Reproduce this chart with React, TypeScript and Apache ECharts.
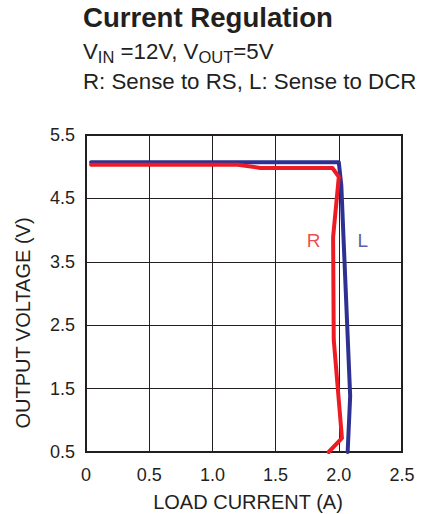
import React, { useEffect, useRef } from "react";
import * as echarts from "echarts";

const xTicks = [0, 0.5, 1.0, 1.5, 2.0, 2.5];
const yTicks = [0.5, 1.5, 2.5, 3.5, 4.5, 5.5];

// L: Sense to DCR (blue)
const seriesL: [number, number][] = [
  [0.04, 5.07],
  [2.0, 5.07],
  [2.02, 4.7],
  [2.09, 1.38],
  [2.07, 0.5],
];

// R: Sense to RS (red)
const seriesR: [number, number][] = [
  [0.04, 5.03],
  [1.2, 5.03],
  [1.38, 4.98],
  [1.95, 4.98],
  [2.0, 4.84],
  [1.955, 3.89],
  [1.96, 2.27],
  [2.025, 0.72],
  [1.92, 0.5],
];

const curveLabels = [
  { name: "R", value: [1.8, 3.83], color: "#ed1c24" },
  { name: "L", value: [2.19, 3.83], color: "#2e3192" },
];

const FONT = "'Liberation Sans', Arial, Helvetica, sans-serif";

export default function App() {
  const ref = useRef<HTMLDivElement>(null);
  useEffect(() => {
    document.body.style.margin = "0";
    const chart = echarts.init(ref.current!, undefined, { renderer: "svg" });
    chart.setOption({
      animation: false,
      backgroundColor: "#ffffff",
      textStyle: { fontFamily: FONT },
      grid: {
        left: 86,
        top: 135,
        width: 316,
        height: 317,
        show: true,
        borderColor: "#231f20",
        borderWidth: 2,
        containLabel: false,
      },
      xAxis: {
        type: "value",
        min: 0,
        max: 2.5,
        interval: 0.5,
        axisLine: { show: false },
        axisTick: { show: false },
        axisLabel: {
          color: "#231f20",
          fontSize: 18,
          fontFamily: FONT,
          margin: 14,
          formatter: (v: number) => {
            const i = xTicks.findIndex((t) => Math.abs(t - v) < 1e-6);
            return i === 0 ? "0" : i >= 0 ? xTicks[i].toFixed(1) : "";
          },
        },
        splitLine: { show: true, lineStyle: { color: "#231f20", width: 1 } },
      },
      yAxis: {
        type: "value",
        min: 0.5,
        max: 5.5,
        interval: 1,
        axisLine: { show: false },
        axisTick: { show: false },
        axisLabel: {
          color: "#231f20",
          fontSize: 18,
          fontFamily: FONT,
          margin: 11,
          formatter: (v: number) => {
            const i = yTicks.findIndex((t) => Math.abs(t - v) < 1e-6);
            return i >= 0 ? yTicks[i].toFixed(1) : "";
          },
        },
        splitLine: { show: true, lineStyle: { color: "#231f20", width: 1 } },
      },
      series: [
        {
          name: "L",
          type: "line",
          data: seriesL,
          symbol: "none",
          lineStyle: { color: "#2e3192", width: 4, cap: "round", join: "round" },
          z: 3,
        },
        {
          name: "R",
          type: "line",
          data: seriesR,
          symbol: "none",
          lineStyle: { color: "#ed1c24", width: 4, cap: "round", join: "round" },
          z: 4,
        },
        {
          type: "scatter",
          symbolSize: 0,
          data: curveLabels.map((c) => ({
            value: c.value,
            label: {
              show: true,
              position: "inside",
              formatter: c.name,
              color: c.color,
              fontSize: 19,
              fontFamily: FONT,
            },
          })),
          z: 5,
        },
      ],
      graphic: [
        {
          type: "text",
          left: 83,
          top: 3,
          style: {
            text: "Current Regulation",
            font: `bold 27.6px ${FONT}`,
            fill: "#231f20",
          },
        },
        {
          type: "text",
          left: 83,
          top: 37,
          style: {
            text: "{a|V}{s|IN}{a| =12V, V}{s|OUT}{a|=5V}",
            fill: "#231f20",
            rich: {
              a: { fontSize: 22.3, fontFamily: FONT, fill: "#231f20", lineHeight: 28 },
              s: { fontSize: 16.5, fontFamily: FONT, fill: "#231f20", padding: [11, 0, 0, 0], lineHeight: 28 },
            },
          },
        },
        {
          type: "text",
          left: 83,
          top: 70,
          style: {
            text: "R: Sense to RS, L: Sense to DCR",
            font: `22.3px ${FONT}`,
            fill: "#231f20",
          },
        },
        {
          type: "text",
          x: 248,
          y: 502,
          style: {
            text: "LOAD CURRENT (A)",
            font: `20px ${FONT}`,
            fill: "#231f20",
            align: "center",
            verticalAlign: "middle",
          },
        },
        {
          type: "text",
          x: 23,
          y: 323,
          rotation: Math.PI / 2,
          style: {
            text: "OUTPUT VOLTAGE (V)",
            font: `20px ${FONT}`,
            fill: "#231f20",
            align: "center",
            verticalAlign: "middle",
          },
        },
      ],
    });
    return () => chart.dispose();
  }, []);
  return <div ref={ref} style={{ width: 424, height: 514 }} />;
}
